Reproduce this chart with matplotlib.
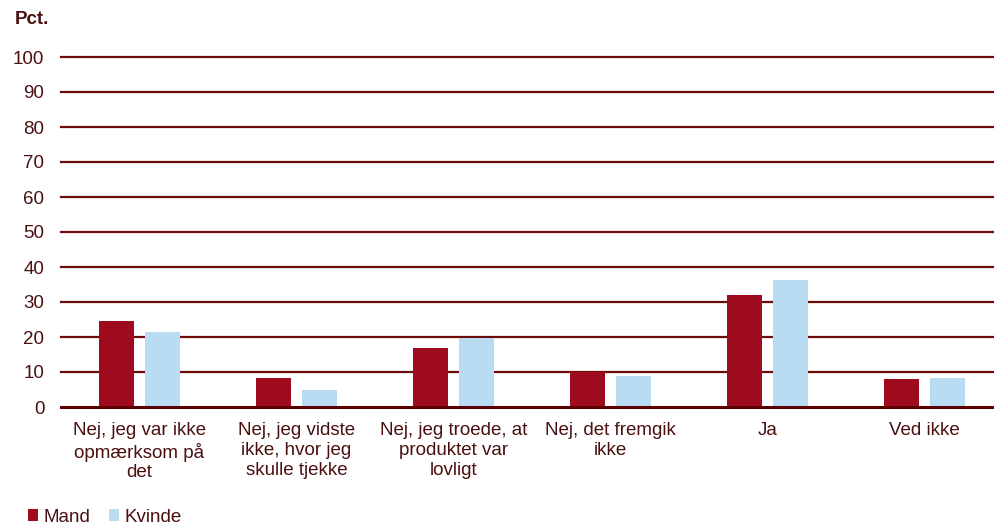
import matplotlib.pyplot as plt
import numpy as np
from matplotlib.patches import Patch

plt.rcParams['font.family'] = ['Liberation Sans', 'DejaVu Sans']

categories = ['Nej, jeg var ikke\nopmærksom på\ndet',
              'Nej, jeg vidste\nikke, hvor jeg\nskulle tjekke',
              'Nej, jeg troede, at\nproduktet var\nlovligt',
              'Nej, det fremgik\nikke',
              'Ja',
              'Ved ikke']
mand = [24.7, 8.4, 16.8, 10.0, 31.9, 7.9]
kvinde = [21.4, 4.8, 19.7, 9.0, 36.3, 8.2]
yticks = [0, 10, 20, 30, 40, 50, 60, 70, 80, 90, 100]

red = '#9E0B1F'
blue = '#B8DDF3'
grid_col = '#6E0B0B'
txt_col = '#4A1010'

fig = plt.figure(figsize=(9.94, 5.24), dpi=100)
# plot area runs past the right edge of the picture, like the original
ax = fig.add_axes([61/994, 1-407/524, 942/994, 350/524])

x = np.arange(len(categories))
w = 0.228
off = 0.147
ax.bar(x - off, mand, w, color=red, zorder=3)
ax.bar(x + off, kvinde, w, color=blue, zorder=3)

ax.set_xlim(-0.5, len(categories) - 0.5)
ax.set_ylim(0, 100)
ax.set_yticks(yticks)
for t in yticks[1:]:
    ax.axhline(t, color=grid_col, lw=1.6, zorder=1, clip_on=False)
ax.axhline(0, color='#5C0000', lw=2.2, zorder=4, clip_on=False)

for s in ax.spines.values():
    s.set_visible(False)
ax.tick_params(axis='y', length=0, pad=12, labelsize=13.5, labelcolor=txt_col)
ax.tick_params(axis='x', length=0, pad=11, labelsize=13.5, labelcolor=txt_col)
ax.set_xticks(x)
ax.set_xticklabels(categories, linespacing=1.22)

fig.text(15/994, 1-19/524, 'Pct.', fontsize=13.5, fontweight='bold', color=txt_col, va='center')

handles = [Patch(facecolor=red, label='Mand'), Patch(facecolor=blue, label='Kvinde')]
fig.legend(handles=handles, loc='center left', bbox_to_anchor=(28/994, 1-517/524), ncol=2,
           frameon=False, fontsize=13.5, handlelength=0.55, handleheight=0.55,
           handletextpad=0.3, columnspacing=0.95, labelcolor=txt_col,
           borderpad=0, borderaxespad=0)

plt.savefig('out.png', dpi=100)
